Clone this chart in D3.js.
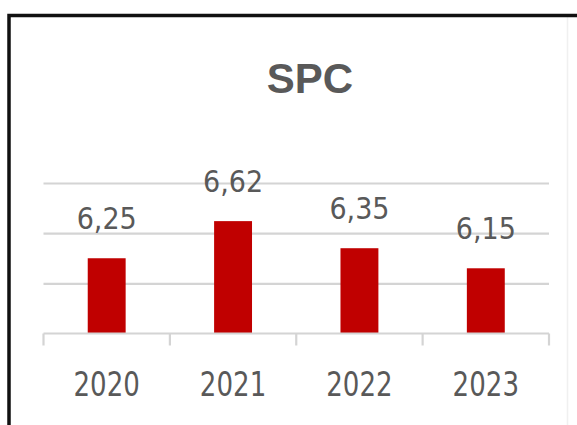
<!DOCTYPE html>
<html>
<head>
<meta charset="utf-8">
<script src="https://cdn.jsdelivr.net/npm/d3@7"></script>
<style>
  html, body { margin: 0; padding: 0; background: #ffffff; }
  svg { display: block; }
</style>
</head>
<body>
<svg id="chart" width="577" height="425"></svg>
<script>
// ---- data ----
const title = "SPC";
const categories = ["2020", "2021", "2022", "2023"];
const values = [6.25, 6.62, 6.35, 6.15];
const valueLabels = ["6,25", "6,62", "6,35", "6,15"];
const gridValues = [6.0, 6.5, 7.0];
const yDomain = [5.5, 7.0];

// ---- layout ----
const W = 577, H = 425;
const plotLeft = 43.5, plotRight = 549, plotBottom = 333.5, plotTop = 183;
const narrow = "'Liberation Sans Narrow', 'Arial Narrow', 'DejaVu Sans Condensed', sans-serif";
const textColor = "#595959";
const gridColor = "#d4d4d4";

const svg = d3.select("#chart");

// frame
svg.append("rect").attr("x", 0).attr("y", 0).attr("width", W).attr("height", H).attr("fill", "#fff");
svg.append("line").attr("x1", 567.5).attr("x2", 567.5).attr("y1", 17).attr("y2", H)
  .attr("stroke", "#f0f0f0").attr("stroke-width", 1.5);
svg.append("path")
  .attr("d", `M9,${H} L9,15.5 L${W},15.5`)
  .attr("fill", "none").attr("stroke", "#111").attr("stroke-width", 3.5);

// scales
const x = d3.scaleBand().domain(categories).range([plotLeft, plotRight])
  .paddingInner(0.7).paddingOuter(0.35);
const y = d3.scaleLinear().domain(yDomain).range([plotBottom, plotTop]);

// gridlines
const grid = svg.append("g").attr("transform", `translate(${plotLeft},0)`)
  .call(d3.axisLeft(y).tickValues(gridValues).tickSize(-(plotRight - plotLeft)).tickFormat(""));
grid.select(".domain").remove();
grid.selectAll(".tick line").attr("stroke", gridColor).attr("stroke-width", 2.2);

// title
svg.append("text").attr("x", 310).attr("y", 93).attr("text-anchor", "middle")
  .attr("font-family", "'Liberation Sans', Arial, sans-serif").attr("font-weight", "bold")
  .attr("font-size", 42).attr("fill", textColor).text(title);

// bars
svg.append("g").selectAll("rect").data(values).join("rect")
  .attr("x", (d, i) => x(categories[i]))
  .attr("y", d => y(d))
  .attr("width", x.bandwidth())
  .attr("height", d => plotBottom - y(d))
  .attr("fill", "#c00000");

// value labels
svg.append("g").selectAll("text").data(values).join("text")
  .attr("x", (d, i) => x(categories[i]) + x.bandwidth() / 2)
  .attr("y", d => y(d) - 29)
  .attr("text-anchor", "middle")
  .attr("font-family", narrow).attr("font-size", 30).attr("fill", textColor)
  .text((d, i) => valueLabels[i]);

// x axis: baseline + boundary ticks
const step = x.step();
const boundaries = categories.map(c => x(c) - (step - x.bandwidth()) / 2).concat([plotRight]);
svg.append("line").attr("x1", plotLeft).attr("x2", plotRight)
  .attr("y1", plotBottom).attr("y2", plotBottom)
  .attr("stroke", gridColor).attr("stroke-width", 2.2);
svg.append("g").selectAll("line").data(boundaries).join("line")
  .attr("x1", d => d).attr("x2", d => d)
  .attr("y1", plotBottom).attr("y2", plotBottom + 12)
  .attr("stroke", gridColor).attr("stroke-width", 2.2);

const xAxis = svg.append("g").attr("transform", `translate(0,0)`)
  .call(d3.axisBottom(x).tickSize(0));
xAxis.select(".domain").remove();
xAxis.selectAll(".tick text")
  .attr("y", 0).attr("dy", null)
  .attr("transform", "translate(0,396) scale(1,1.15)")
  .attr("font-family", narrow).attr("font-size", 29).attr("fill", textColor);
</script>
</body>
</html>
